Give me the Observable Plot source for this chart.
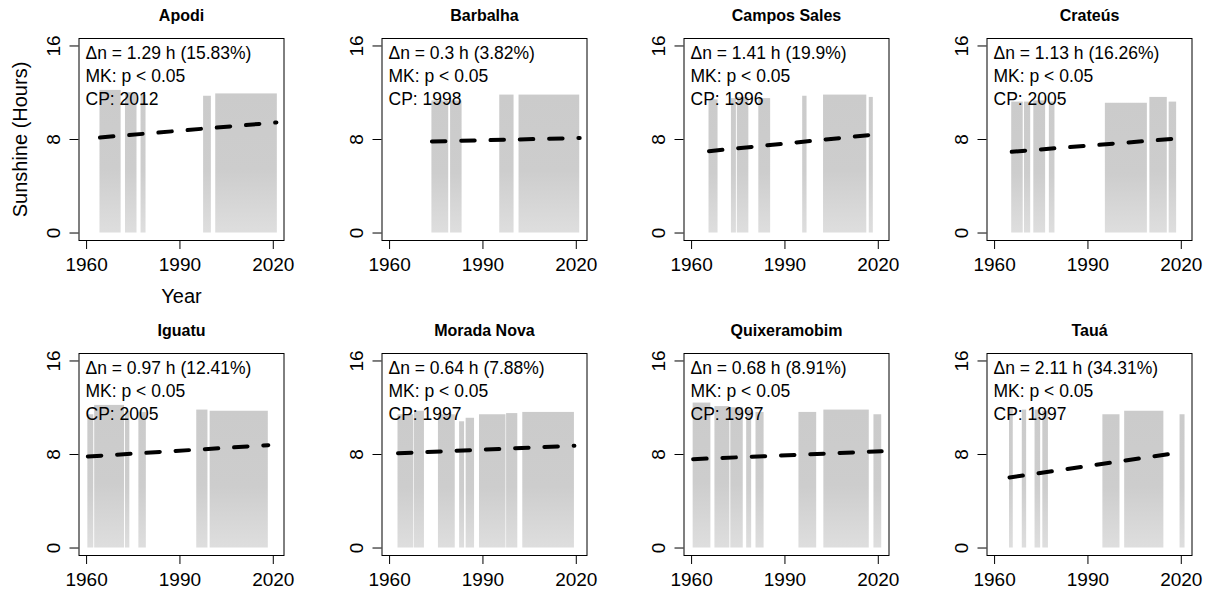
<!DOCTYPE html>
<html><head><meta charset="utf-8">
<script src="https://cdn.jsdelivr.net/npm/d3@7"></script>
<script src="https://cdn.jsdelivr.net/npm/@observablehq/plot@0.6"></script>
<style>
html,body{margin:0;padding:0;background:#fff;overflow:hidden;}
#chart{position:relative;width:1216px;height:590px;font-family:"Liberation Sans",Arial,sans-serif;}
#chart svg{position:absolute;overflow:visible;}
</style></head><body>
<svg width="0" height="0" style="position:absolute"><defs>
<linearGradient id="density" x1="0" y1="0" x2="0" y2="1">
<stop offset="0" stop-color="#cbcbcb"/><stop offset="0.55" stop-color="#cdcdcd"/><stop offset="1" stop-color="#dedede"/>
</linearGradient></defs></svg>
<div id="chart"></div>
<script>
// ---- data ----
const stations = ["Apodi", "Barbalha", "Campos Sales", "Crateús", "Iguatu", "Morada Nova", "Quixeramobim", "Tauá"];
const deltaHours = [1.29, 0.3, 1.41, 1.13, 0.97, 0.64, 0.68, 2.11];
const deltaPercent = [15.83, 3.82, 19.9, 16.26, 12.41, 7.88, 8.91, 34.31];
const changePoints = [2012, 1998, 1996, 2005, 2005, 1997, 1997, 1997];
const mkText = "MK: p < 0.05";
const trendStartYear = [1964.3, 1973.6, 1965.6, 1965.5, 1960.4, 1962.7, 1960.5, 1964.8];
const trendEndYear = [2021.0, 2021.1, 2018.4, 2018.5, 2018.4, 2019.4, 2021.1, 2018.6];
const trendStartValue = [8.17, 7.83, 7.0, 6.95, 7.83, 8.11, 7.6, 6.03];
const trendEndValue = [9.46, 8.13, 8.41, 8.08, 8.8, 8.75, 8.28, 8.14];
// observation periods: [start year, end year, max daily sunshine (h)]
const periodsApodi = [[1964.3,1971.1,12.2],[1972.5,1976.2,12.0],[1977.5,1979.1,11.8],[1997.6,2000.1,11.7],[2001.5,2021.3,11.9]];
const periodsBarbalha = [[1973.6,1979.0,11.3],[1979.6,1983.3,11.3],[1995.4,2000.0,11.8],[2001.6,2021.1,11.8]];
const periodsCamposSales = [[1965.6,1968.5,11.4],[1972.8,1974.4,11.5],[1974.7,1978.4,11.6],[1981.6,1985.4,11.5],[1995.7,1997.1,11.7],[2002.4,2016.3,11.8],[2017.1,2018.4,11.6]];
const periodsCrateus = [[1965.5,1969.2,11.2],[1969.6,1971.6,11.2],[1972.6,1976.4,11.3],[1977.6,1979.4,11.2],[1995.6,2009.1,11.1],[2009.9,2015.5,11.6],[2016.1,2018.5,11.2]];
const periodsIguatu = [[1960.4,1962.3,11.4],[1962.6,1972.2,12.2],[1972.5,1973.9,11.7],[1976.8,1979.2,11.6],[1995.4,1999.0,11.8],[1999.7,2018.4,11.7]];
const periodsMoradaNova = [[1962.7,1967.8,11.4],[1968.0,1971.2,11.7],[1975.7,1981.1,11.4],[1982.5,1984.1,10.8],[1984.6,1987.3,11.1],[1988.9,1997.4,11.4],[1997.6,2001.2,11.5],[2002.8,2019.4,11.6]];
const periodsQuixeramobim = [[1960.5,1966.2,12.4],[1967.5,1972.3,12.1],[1972.6,1976.6,12.0],[1977.7,1979.3,11.8],[1980.7,1983.3,11.6],[1994.5,2000.2,11.6],[2002.5,2017.1,11.8],[2018.6,2021.1,11.4]];
const periodsTaua = [[1964.8,1966.0,12.0],[1968.9,1970.3,11.8],[1973.0,1974.8,11.8],[1975.5,1977.3,11.7],[1994.8,2000.3,11.4],[2001.8,2014.4,11.7],[2019.6,2021.2,11.4]];
const periods = [periodsApodi, periodsBarbalha, periodsCamposSales, periodsCrateus, periodsIguatu, periodsMoradaNova, periodsQuixeramobim, periodsTaua];
const xTicks = [1960, 1990, 2020];
const yTicks = [0, 8, 16];
const xLabel = "Year";
const yLabel = "Sunshine (Hours)";

// ---- layout ----
const BOX_W = 205, BOX_H = 202;
const M = {top: 40, left: 78.5, right: 20, bottom: 70};
const COL_PITCH = 302.7, ROW_TOPS = [38.3, 353.3];
const FONT = '"Liberation Sans", Arial, Helvetica, sans-serif';
const chart = document.getElementById("chart");

stations.forEach((name, i) => {
  const col = i % 4, row = Math.floor(i / 4);
  const trend = [
    {year: trendStartYear[i], value: trendStartValue[i]},
    {year: trendEndYear[i], value: trendEndValue[i]}
  ];
  const note = {frameAnchor: "top-left", dx: 6.5, text: d => d, fontSize: 17.5, textAnchor: "start", lineAnchor: "middle"};
  const marks = [
    Plot.rect(periods[i], {x1: d => d[0], x2: d => d[1], y1: 0, y2: d => d[2], fill: "url(#density)"}),
    Plot.line(trend, {x: "year", y: "value", stroke: "black", strokeWidth: 4, strokeDasharray: "13.5,15.8", strokeLinecap: "round"}),
    Plot.frame({stroke: "black", strokeWidth: 1}),
    Plot.axisX({ticks: xTicks, tickSize: 9, tickPadding: 8, fontSize: 19, label: null, tickFormat: d => String(d)}),
    Plot.axisY({ticks: yTicks, tickSize: 9, tickPadding: 10, tickRotate: -90, fontSize: 19, label: null, tickFormat: d => String(d)}),
    Plot.text([name], {frameAnchor: "top", dy: -23, text: d => d, fontWeight: "bold", fontSize: 16, lineAnchor: "middle", textAnchor: "middle"}),
    Plot.text([`Δn = ${deltaHours[i]} h (${deltaPercent[i]}%)`], {...note, dy: 15}),
    Plot.text([mkText], {...note, dy: 37.5}),
    Plot.text([`CP: ${changePoints[i]}`], {...note, dy: 61})
  ];
  if (i === 0) {
    marks.push(Plot.text([yLabel], {frameAnchor: "left", dx: -58.5, rotate: -90, text: d => d, fontSize: 20, textAnchor: "middle", lineAnchor: "middle"}));
    marks.push(Plot.text([xLabel], {frameAnchor: "bottom", dy: 56, text: d => d, fontSize: 20, textAnchor: "middle", lineAnchor: "middle"}));
  }
  const svg = Plot.plot({
    width: M.left + BOX_W + M.right,
    height: M.top + BOX_H + M.bottom,
    marginTop: M.top, marginLeft: M.left, marginRight: M.right, marginBottom: M.bottom,
    x: {domain: [1957.56, 2023.44]},
    y: {domain: [-0.64, 16.64]},
    style: {fontFamily: FONT, color: "black", background: "transparent", overflow: "visible"},
    marks
  });
  svg.style.left = (78.5 + col * COL_PITCH - M.left) + "px";
  svg.style.top = (ROW_TOPS[row] - M.top) + "px";
  chart.appendChild(svg);
});
</script>
</body></html>
